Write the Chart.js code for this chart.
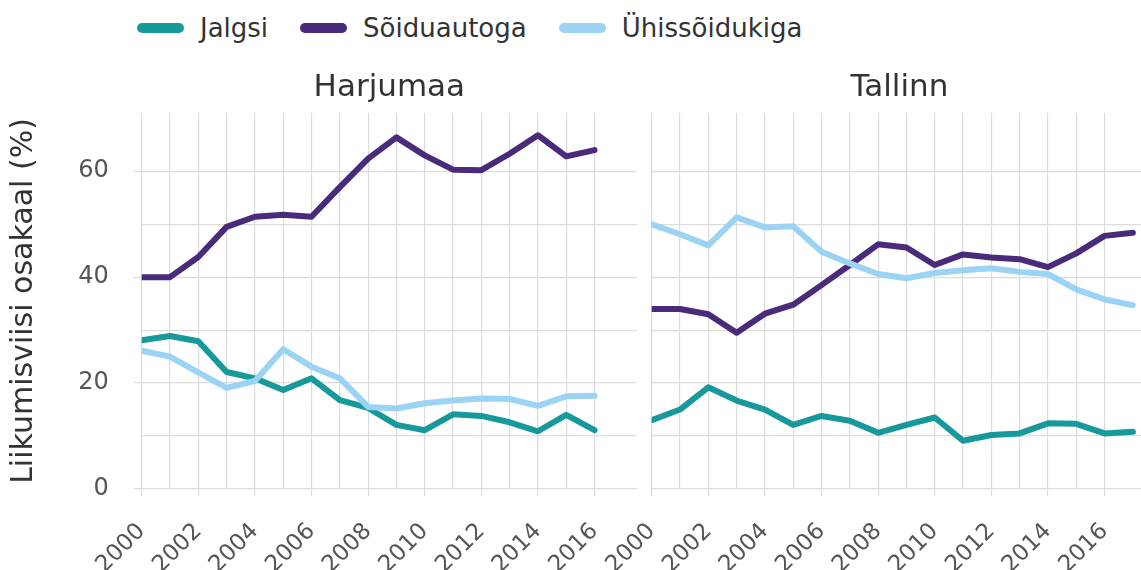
<!DOCTYPE html>
<html lang="et">
<head>
<meta charset="utf-8">
<script src="https://cdn.jsdelivr.net/npm/chart.js@4.4.0/dist/chart.umd.min.js"></script>
<style>
  html, body { margin: 0; padding: 0; background: #fff; }
  #wrap { position: relative; width: 1141px; height: 570px; overflow: hidden; font-family: 'DejaVu Sans', sans-serif; }
  #legend { position: absolute; left: 137px; top: 13px; height: 30px; display: flex; align-items: center; font-size: 26px; color: #333; }
  #legend .item { display: flex; align-items: center; margin-right: 32px; }
  #legend .pill { width: 47px; height: 10px; border-radius: 5px; margin-right: 16px; }
  #c1wrap { position: absolute; left: 0; top: 0; width: 637px; height: 570px; }
  #c2wrap { position: absolute; left: 580px; top: 0; width: 567px; height: 570px; }
</style>
</head>
<body>
<div id="wrap">
  <div id="legend"></div>
  <div id="c1wrap"><canvas id="harjuChart"></canvas></div>
  <div id="c2wrap"><canvas id="tallinnChart"></canvas></div>
</div>
<script>
// liikumisviisid ja värvid
const viisid = ['Jalgsi', 'Sõiduautoga', 'Ühissõidukiga'];
const varvid = ['#17999b', '#4a2a7a', '#9ad3f4'];

// aastad (x telg)
const aastadHarju = [2000, 2001, 2002, 2003, 2004, 2005, 2006, 2007, 2008, 2009, 2010, 2011, 2012, 2013, 2014, 2015, 2016];
const aastadTallinn = [2000, 2001, 2002, 2003, 2004, 2005, 2006, 2007, 2008, 2009, 2010, 2011, 2012, 2013, 2014, 2015, 2016, 2017];

// Harjumaa osakaalud (%)
const jalgsiHarju = [28.1, 28.9, 27.9, 22.1, 20.9, 18.7, 20.9, 16.8, 15.3, 12.1, 11.1, 14.1, 13.8, 12.6, 10.9, 14.0, 11.1];
const soiduHarju = [40.0, 40.0, 43.8, 49.5, 51.4, 51.8, 51.4, 57.0, 62.4, 66.4, 63.0, 60.3, 60.2, 63.3, 66.8, 62.8, 64.0];
const yhisHarju = [26.1, 25.0, 22.0, 19.1, 20.4, 26.4, 23.1, 20.9, 15.5, 15.2, 16.2, 16.7, 17.1, 17.0, 15.7, 17.5, 17.6];

// Tallinna osakaalud (%)
const jalgsiTallinn = [13.0, 15.0, 19.2, 16.7, 15.0, 12.1, 13.8, 12.9, 10.6, 12.1, 13.5, 9.1, 10.2, 10.5, 12.4, 12.3, 10.5, 10.8];
const soiduTallinn = [34.0, 34.0, 33.0, 29.5, 33.1, 34.8, 38.5, 42.3, 46.2, 45.6, 42.3, 44.3, 43.7, 43.4, 41.9, 44.5, 47.8, 48.4];
const yhisTallinn = [50.0, 48.1, 46.0, 51.3, 49.4, 49.6, 44.8, 42.6, 40.6, 39.8, 40.8, 41.3, 41.7, 41.0, 40.6, 37.7, 35.8, 34.7];

const gridColor = '#dcdcdc';
const tickTextColor = '#555555';
const textColor = '#333333';
const noColor = 'rgba(0,0,0,0)';

Chart.defaults.font.family = "'DejaVu Sans', sans-serif";

// legend (ühine mõlemale paneelile)
const legendEl = document.getElementById('legend');
viisid.forEach((nimi, i) => {
  const item = document.createElement('div');
  item.className = 'item';
  const pill = document.createElement('span');
  pill.className = 'pill';
  pill.style.background = varvid[i];
  const label = document.createElement('span');
  label.textContent = nimi;
  item.appendChild(pill);
  item.appendChild(label);
  legendEl.appendChild(item);
});

function makeDatasets(aastad, seeriad) {
  return seeriad.map((vals, i) => ({
    label: viisid[i],
    data: aastad.map((a, j) => ({ x: a, y: vals[j] })),
    borderColor: varvid[i],
    backgroundColor: varvid[i],
    borderWidth: 6,
    borderCapStyle: 'round',
    borderJoinStyle: 'round',
    pointRadius: 0,
    tension: 0,
    order: seeriad.length - i
  }));
}

function renderPanel(canvasId, pealkiri, aastad, seeriad, isFirst) {
  const yAxis = {
    min: 0,
    max: 71,
    afterBuildTicks: s => { s.ticks = s.ticks.filter(t => t.value % 10 === 0); },
    afterFit: s => { s.width = isFirst ? 141.7 : 0; },
    ticks: {
      display: isFirst,
      stepSize: 10,
      padding: 25,
      color: tickTextColor,
      font: { size: 24 },
      callback: v => (v % 20 === 0 ? String(v) : '')
    },
    grid: {
      color: gridColor,
      lineWidth: 1.2,
      drawTicks: isFirst,
      tickLength: 8,
      tickColor: ctx => (ctx.tick && ctx.tick.value % 20 === 0 ? gridColor : noColor)
    },
    border: { display: false },
    title: {
      display: isFirst,
      text: 'Liikumisviisi osakaal (%)',
      color: textColor,
      font: { size: 30 },
      padding: { top: 6, bottom: 0 }
    }
  };

  new Chart(document.getElementById(canvasId), {
    type: 'line',
    data: { datasets: makeDatasets(aastad, seeriad) },
    options: {
      responsive: true,
      maintainAspectRatio: false,
      animation: false,
      layout: { padding: { left: isFirst ? 0 : 71.7, right: 0, top: 0, bottom: 0 } },
      scales: {
        x: {
          type: 'linear',
          min: 2000,
          max: 2017.5,
          afterBuildTicks: s => { s.ticks = s.ticks.filter(t => Number.isInteger(t.value)); },
          afterFit: s => {
            s.height = 81;
            // siltide jaoks lisaruumi ei jäta, paneeli laius jääb samaks
            s.paddingLeft = 0;
            s.paddingRight = 0;
          },
          ticks: {
            stepSize: 1,
            autoSkip: false,
            minRotation: 45,
            maxRotation: 45,
            padding: 22,
            color: tickTextColor,
            font: { size: 23 },
            callback: v => (v % 2 === 0 ? String(v) : '')
          },
          grid: {
            color: gridColor,
            lineWidth: 1.2,
            tickLength: 7,
            tickColor: ctx => (ctx.tick && ctx.tick.value % 2 === 0 ? gridColor : noColor)
          },
          border: { display: false }
        },
        y: yAxis
      },
      plugins: {
        legend: { display: false },
        tooltip: { enabled: false },
        title: {
          display: true,
          text: pealkiri,
          fullSize: false,
          color: textColor,
          font: { size: 31, weight: 'normal' },
          padding: { top: 69.4, bottom: 6.4 }
        }
      }
    }
  });
}

renderPanel('harjuChart', 'Harjumaa', aastadHarju, [jalgsiHarju, soiduHarju, yhisHarju], true);
renderPanel('tallinnChart', 'Tallinn', aastadTallinn, [jalgsiTallinn, soiduTallinn, yhisTallinn], false);
</script>
</body>
</html>
